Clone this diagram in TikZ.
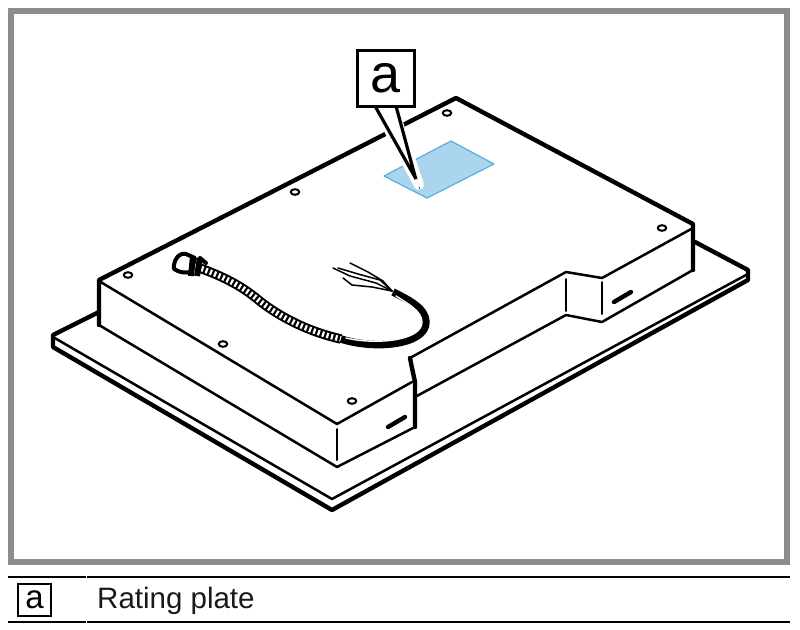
\documentclass[tikz,border=0pt]{standalone}
\usepackage{fontspec}
\setmainfont{Liberation Sans}
\usetikzlibrary{positioning}
\definecolor{framegray}{HTML}{8C8C8C}
\definecolor{plateblue}{HTML}{A9D5EE}
\definecolor{plateedge}{HTML}{5BAEDC}
\begin{document}
\begin{tikzpicture}[x=1pt, y=-1pt, line join=round, line cap=round,
  thickline/.style={line width=4.4pt},
  thinline/.style={line width=2.5pt},
  hole/.style={line width=2pt, fill=white},
  slot/.style={line width=4.4pt},
  tag/.style={draw, line width=3.4pt, line join=miter, fill=white, inner sep=0pt, minimum width=57pt, minimum height=56pt, font=\fontsize{54}{54}\selectfont},
  legendtag/.style={draw, line width=1.8pt, line join=miter, inner sep=0pt, minimum width=33pt, minimum height=32pt, font=\fontsize{33}{33}\selectfont},
  rule/.style={line width=2pt, line cap=butt}]
\useasboundingbox (0,0) rectangle (800,629);
\draw[framegray, line width=6pt, line cap=butt, line join=miter] (11,11) rectangle (787,562);

% base plate
\fill[white] (53,335)--(99,312)--(695,242)--(748,270)--(746,275)--(332,499)--cycle;
\draw[thinline] (53,337)--(332,499)--(746,275);
\draw[thickline] (99,312)--(53,335)--(53,347)--(332,510)--(748,280)--(748,270)--(695,242);

% housing
\fill[white] (99,280)--(456,98)--(693,225)--(693,270)--(602,322)--(566,315)--(415,397)--(415,427)--(337,467)--(99,325)--cycle;
\draw[plateedge, fill=plateblue, line width=1.2pt] (451,141)--(494,164)--(427,198)--(384,176)--cycle;
\draw[thickline] (99,325)--(99,280)--(456,98)--(693,224)--(693,270);
\draw[thinline] (99,281)--(337,424)--(412,382);
\draw[thinline] (99,325)--(337,467)--(415,427);
\draw[line width=2pt] (337,429)--(337,460);
\draw[thickline] (410,358)--(412,368)--(415,382)--(415,427);
\draw[thinline] (410,358)--(566,272)--(602,278)--(693,228);
\draw[thinline] (415,397)--(566,315)--(602,322)--(693,270);
\draw[line width=2pt] (566,279)--(566,311);
\draw[line width=2pt] (602,282)--(602,314);
\draw[slot] (388,427)--(405,417);
\draw[slot] (614,302)--(631,292);
\foreach \hx/\hy in {128/275,295/192,223/344,352/401,662/228,447/113}
  \draw[hole] (\hx,\hy) ellipse (4.3 and 2.8);

% cable
\draw[line width=9.5pt, line cap=butt] (197,267) .. controls (222,276) and (240,285) .. (256,298) .. controls (275,314) and (305,331) .. (341,339);
\draw[white, line width=5.5pt, line cap=butt, dash pattern=on 2.2pt off 2.4pt] (197,267) .. controls (222,276) and (240,285) .. (256,298) .. controls (275,314) and (305,331) .. (341,339);
\draw[line width=7.5pt, line cap=butt] (341,339) .. controls (375,350) and (426,345) .. (426,322) .. controls (426,308) and (407,299) .. (393,292);
\draw[white, line width=1.4pt] (346,338) .. controls (375,345) and (422,341) .. (422,322) .. controls (422,311) and (407,303) .. (396,296);
\draw[line width=1.5pt] (392,291)--(383,281)--(368,272)--(350,263);
\draw[line width=1.5pt] (392,291)--(380,280)--(358,274)--(338,268);
\draw[line width=1.5pt] (392,291)--(376,283)--(350,276)--(333,268);
\draw[line width=1.5pt] (392,291)--(372,287)--(352,285)--(343,278);
% connector
\draw[line width=4pt, fill=white] (186,254) .. controls (178,252) and (173,262) .. (174,269) .. controls (180,273) and (186,273) .. (191,272) -- (195,258) -- cycle;
\draw[line width=6pt, line cap=butt] (193,256)--(191,276);
\draw[line width=6pt, line cap=butt] (200,258)--(197,276);
\draw[line width=4pt] (200,258)--(206,263);

% callout
\node[tag] (tagA) at (386,78.5) {a};
\coordinate (tagTip) at (419,185);
\draw[white, line width=10pt] (377,108)--(tagTip)--(393,108);
\fill[white] (375,108)--(tagTip)--(396,108)--cycle;
\draw[line width=3.2pt, line join=miter, shorten >=0pt] (375,106)--(415.5,178)--(396,106);
\draw[white, line width=4pt] (416.5,181)--(tagTip);
\node[tag] at (tagA) {a};

% legend
\draw[rule] (8,577)--(85.5,577);
\draw[rule] (86.5,577)--(790,577);
\draw[rule] (8,622)--(85.5,622);
\draw[rule] (86.5,622)--(790,622);
\node[legendtag] (legendA) at (34.5,600) {a};
\node[anchor=base west, inner sep=0pt, font=\fontsize{29.5}{30}\selectfont, text=black!90] (legendText) at (97,608) {Rating plate};
\end{tikzpicture}
\end{document}
